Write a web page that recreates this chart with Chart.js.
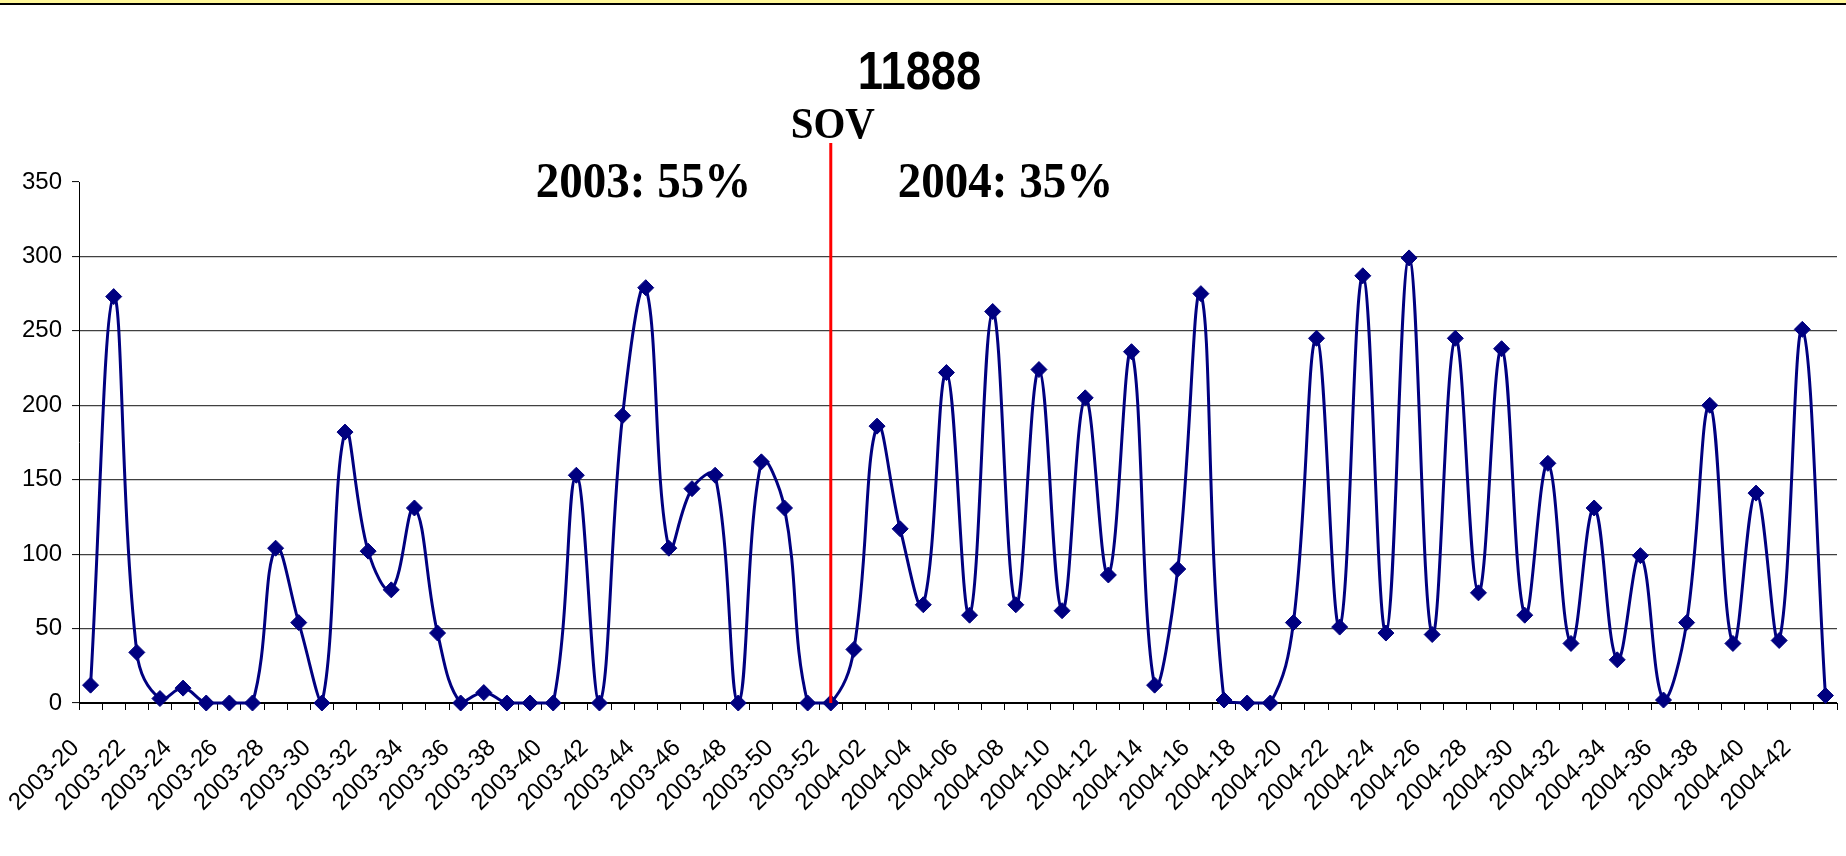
<!DOCTYPE html>
<html>
<head>
<meta charset="utf-8">
<title>11888</title>
<script src="https://cdn.jsdelivr.net/npm/chart.js@4/dist/chart.umd.min.js"></script>
<style>
  html, body { margin: 0; padding: 0; background: #fff; }
</style>
</head>
<body>
<canvas id="chart_sov" width="1846" height="856"></canvas>
<script>
var weeks = [
  '2003-20', '2003-21', '2003-22', '2003-23', '2003-24', '2003-25', '2003-26', '2003-27',
  '2003-28', '2003-29', '2003-30', '2003-31', '2003-32', '2003-33', '2003-34', '2003-35',
  '2003-36', '2003-37', '2003-38', '2003-39', '2003-40', '2003-41', '2003-42', '2003-43',
  '2003-44', '2003-45', '2003-46', '2003-47', '2003-48', '2003-49', '2003-50', '2003-51',
  '2003-52',
  '2004-01', '2004-02', '2004-03', '2004-04', '2004-05', '2004-06', '2004-07', '2004-08',
  '2004-09', '2004-10', '2004-11', '2004-12', '2004-13', '2004-14', '2004-15', '2004-16',
  '2004-17', '2004-18', '2004-19', '2004-20', '2004-21', '2004-22', '2004-23', '2004-24',
  '2004-25', '2004-26', '2004-27', '2004-28', '2004-29', '2004-30', '2004-31', '2004-32',
  '2004-33', '2004-34', '2004-35', '2004-36', '2004-37', '2004-38', '2004-39', '2004-40',
  '2004-41', '2004-42', '2004-43'
];
// week 20..52 of 2003
var values2003 = [12, 273, 34, 3, 10, 0, 0, 0, 104, 54, 0, 182, 102, 76, 131, 47,
  0, 7, 0, 0, 0, 153, 0, 193, 279, 104, 144, 153, 0, 162, 131, 0, 0];
// week 1..43 of 2004
var values2004 = [36, 186, 117, 66, 222, 59, 263, 66, 224, 62, 205, 86, 236, 12, 90, 275,
  2, 0, 0, 54, 245, 51, 287, 47, 299, 46, 245, 74, 238, 59, 161, 40, 131, 29, 99, 2,
  54, 200, 40, 141, 42, 251, 5];
var y_min = 0;
var y_max = 350;
var y_step = 50;

var title = '11888';
var sov_week = '2003-52';
var sov_text = 'SOV';
var share_2003 = '2003: 55%';
var share_2004 = '2004: 35%';

var line_color = '#000080';
var grid_color = '#404040';
var band_color = '#fff799';
var tick_font = { family: '"Liberation Sans", Arial, sans-serif', size: 24 };

function putText(ctx, txt, x, y, font, sx, sy) {
  ctx.save();
  ctx.translate(x, y);
  ctx.scale(sx, sy);
  ctx.font = font;
  ctx.fillStyle = '#000';
  ctx.textAlign = 'center';
  ctx.textBaseline = 'alphabetic';
  ctx.fillText(txt, 0, 0);
  ctx.restore();
}

var decor = {
  id: 'decor',
  beforeDraw: function (chart) {
    var ctx = chart.ctx;
    ctx.save();
    ctx.fillStyle = '#fff';
    ctx.fillRect(0, 0, chart.width, chart.height);
    ctx.fillStyle = band_color;
    ctx.fillRect(0, 0, chart.width, 3);
    ctx.fillStyle = '#000';
    ctx.fillRect(0, 3, chart.width, 2);
    ctx.restore();
  },
  afterDatasetsDraw: function (chart) {
    var ctx = chart.ctx;
    var x = chart.scales.x.getPixelForValue(weeks.indexOf(sov_week));
    var bottom = chart.scales.y.getPixelForValue(0);
    ctx.save();
    ctx.strokeStyle = '#ff0000';
    ctx.lineWidth = 3;
    ctx.beginPath();
    ctx.moveTo(x, chart.chartArea.top - 39);
    ctx.lineTo(x, bottom);
    ctx.stroke();
    ctx.restore();
  },
  afterDraw: function (chart) {
    var ctx = chart.ctx;
    var x = chart.scales.x.getPixelForValue(weeks.indexOf(sov_week));
    putText(ctx, title, 919.5, 89, 'bold 54px "Liberation Sans", Arial', 0.84, 1);
    putText(ctx, sov_text, x + 2, 138, 'bold 41px "Liberation Serif", "Times New Roman"', 1, 1.06);
    putText(ctx, share_2003, 643.5, 197, 'bold 47px "Liberation Serif", "Times New Roman"', 1, 1.07);
    putText(ctx, share_2004, 1005.5, 197, 'bold 47px "Liberation Serif", "Times New Roman"', 1, 1.07);
  }
};

function make_chart() {
  var ctx = document.getElementById('chart_sov').getContext('2d');
  return new Chart(ctx, {
    type: 'line',
    data: {
      labels: weeks,
      datasets: [{
        label: title,
        data: values2003.concat(values2004),
        borderColor: line_color,
        backgroundColor: line_color,
        borderWidth: 3,
        tension: 0.4,
        pointStyle: 'rectRot',
        pointRadius: 8,
        pointBackgroundColor: line_color,
        pointBorderColor: line_color,
        pointBorderWidth: 1,
        clip: { left: 10, top: 10, right: 10, bottom: 12 }
      }]
    },
    options: {
      responsive: false,
      animation: false,
      devicePixelRatio: 1,
      layout: { padding: { top: 182, right: 4, left: 0, bottom: 0 } },
      plugins: {
        legend: { display: false },
        title: { display: false },
        tooltip: { enabled: false }
      },
      scales: {
        x: {
          offset: true,
          grid: {
            offset: true,
            drawOnChartArea: false,
            drawTicks: true,
            tickLength: 7,
            tickColor: '#000',
            tickWidth: 1
          },
          border: { color: '#000', width: 1 },
          ticks: {
            autoSkip: false,
            maxRotation: 45,
            minRotation: 45,
            padding: 24,
            labelOffset: -15,
            color: '#000',
            font: tick_font,
            callback: function (val, i) {
              return i % 2 === 0 ? this.getLabelForValue(val) : '';
            }
          },
          afterFit: function (scale) {
            scale.height = 153;
            scale.paddingLeft = 0;
            scale.paddingRight = 0;
          }
        },
        y: {
          min: y_min,
          max: y_max,
          ticks: { stepSize: y_step, padding: 10, color: '#000', font: tick_font },
          grid: {
            color: function (c) {
              if (c.tick && c.tick.value === y_max) return 'rgba(0,0,0,0)';
              if (c.tick && c.tick.value === 0) return '#000';
              return grid_color;
            },
            lineWidth: 1.2,
            tickLength: 7,
            tickColor: '#000',
            tickWidth: 1
          },
          border: { color: '#000', width: 1 },
          afterFit: function (scale) { scale.width = 79; }
        }
      }
    },
    plugins: [decor]
  });
}

var chart = make_chart();
</script>
</body>
</html>
